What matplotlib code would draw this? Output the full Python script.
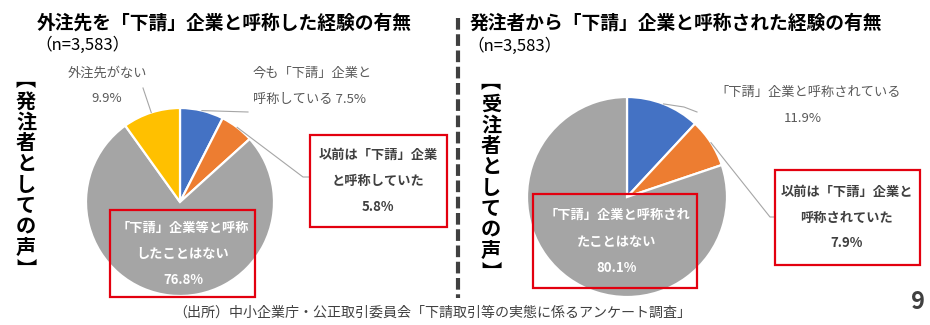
import numpy as np
import matplotlib
matplotlib.use("Agg")
import matplotlib.pyplot as plt
from matplotlib.patches import Rectangle

plt.rcParams['font.family'] = ['Noto Sans CJK JP', 'DejaVu Sans']

# ---- data ----
left_labels = ["今も「下請」企業と呼称している", "以前は「下請」企業と呼称していた",
               "「下請」企業等と呼称したことはない", "外注先がない"]
left_values = [7.5, 5.8, 76.8, 9.9]
right_labels = ["「下請」企業と呼称されている", "以前は「下請」企業と呼称されていた",
                "「下請」企業と呼称されたことはない"]
right_values = [11.9, 7.9, 80.1]
n_total = "3,583"

BLUE, ORANGE, GRAY, YELLOW = "#4472C4", "#ED7D31", "#A5A5A5", "#FFC000"
left_colors = [BLUE, ORANGE, GRAY, YELLOW]
right_colors = [BLUE, ORANGE, GRAY]

W, H = 930, 325
fig = plt.figure(figsize=(W / 100, H / 100), dpi=100)
fig.patch.set_facecolor("white")


def pie_axes(cx, cy, r, values, colors):
    ax = fig.add_axes([(cx - r) / W, (H - cy - r) / H, 2 * r / W, 2 * r / H])
    ax.pie(values, colors=colors, startangle=90, counterclock=False, radius=1,
           wedgeprops=dict(edgecolor="white", linewidth=1.6), frame=True)
    ax.set_xlim(-1, 1)
    ax.set_ylim(-1, 1)
    ax.axis("off")
    return ax


def mid_point(cx, cy, r, values, idx):
    """Pixel position of the outer edge at the middle of wedge idx."""
    total = sum(values)
    start = sum(values[:idx]) / total * 360
    ang = np.deg2rad(90 - (start + values[idx] / total * 180))
    return cx + r * np.cos(ang), cy - r * np.sin(ang)


LCX, LCY, LR = 180, 202, 94
RCX, RCY, RR = 627, 197, 100
pie_axes(LCX, LCY, LR, left_values, left_colors)
pie_axes(RCX, RCY, RR, right_values, right_colors)

# overlay in pixel coordinates (y downward)
ov = fig.add_axes([0, 0, 1, 1], facecolor="none")
ov.set_xlim(0, W)
ov.set_ylim(H, 0)
ov.axis("off")

LABEL = "#595959"
DARK = "#404040"
RED = "#E3000F"
LEAD = "#A6A6A6"


def txt(x, y, s, size=9.5, color=LABEL, weight="normal", ha="center", **kw):
    ov.text(x, y, s, fontsize=size, color=color, fontweight=weight,
            ha=ha, va="center", **kw)


def box(x0, y0, x1, y1):
    ov.add_patch(Rectangle((x0, y0), x1 - x0, y1 - y0, fill=False,
                           edgecolor=RED, linewidth=1.6, zorder=5))


def leader(pts):
    xs, ys = zip(*pts)
    ov.plot(xs, ys, color=LEAD, linewidth=0.8, zorder=4)


def pct(v):
    return f"{v:.1f}%"


# titles
txt(37, 23, "外注先を「下請」企業と呼称した経験の有無", size=13.5,
    color="black", weight="bold", ha="left")
txt(35, 45, f"（n={n_total}）", size=12, color="black", ha="left")
txt(470, 23, "発注者から「下請」企業と呼称された経験の有無", size=13.5,
    color="black", weight="bold", ha="left")
txt(467, 46, f"（n={n_total}）", size=12, color="black", ha="left")

# vertical side headings, one glyph per line
def vertical(x, y_first, word):
    step = 20.9
    txt(x, y_first - 22, "︻", size=14.5, color="black", weight="bold")
    for i, ch in enumerate(word):
        txt(x, y_first + step * i, ch, size=14.5, color="black", weight="bold")
    txt(x, y_first + step * (len(word) - 1) + 22, "︼", size=14.5,
        color="black", weight="bold")

vertical(26, 101, "発注者としての声")
vertical(491, 104, "受注者としての声")

# divider
ov.plot([458, 458], [18, 298], color="#404040", linewidth=3,
        linestyle=(0, (2.8, 1.1)), solid_capstyle="butt")

# ---- left pie labels ----
txt(107, 73, "外注先がない")
txt(107, 99, pct(left_values[3]))
x, y = mid_point(LCX, LCY, LR, left_values, 3)
leader([(x, y), (143, 88)])

txt(253, 73, "今も「下請」企業と", ha="left")
txt(253, 99, "呼称している " + pct(left_values[0]), ha="left")
x, y = mid_point(LCX, LCY, LR, left_values, 0)
leader([(x, y), (248, 112)])

box(310, 135, 447, 227)
txt(378, 155, "以前は「下請」企業", color=DARK, weight="bold")
txt(378, 181, "と呼称していた", color=DARK, weight="bold")
txt(378, 207, pct(left_values[1]), color=DARK, weight="bold")
x, y = mid_point(LCX, LCY, LR, left_values, 1)
leader([(x, y), (303, 177), (310, 177)])

box(110, 210, 255, 297)
txt(183, 228, "「下請」企業等と呼称", color="white", weight="bold")
txt(183, 254, "したことはない", color="white", weight="bold")
txt(183, 280, pct(left_values[2]), color="white", weight="bold")

# ---- right pie labels ----
txt(715, 92, "「下請」企業と呼称されている", ha="left")
txt(803, 119, pct(right_values[0]))
x, y = mid_point(RCX, RCY, RR, right_values, 0)
leader([(x, y), (684, 107), (697, 112)])

box(775, 170, 920, 265)
txt(847, 192, "以前は「下請」企業と", color=DARK, weight="bold")
txt(847, 218, "呼称されていた", color=DARK, weight="bold")
txt(847, 243, pct(right_values[1]), color=DARK, weight="bold")
x, y = mid_point(RCX, RCY, RR, right_values, 1)
leader([(x, y), (770, 217), (775, 217)])

box(533, 194, 697, 288)
txt(617, 215, "「下請」企業と呼称され", color="white", weight="bold")
txt(617, 242, "たことはない", color="white", weight="bold")
txt(617, 268, pct(right_values[2]), color="white", weight="bold")

# footer
txt(432, 313, "（出所）中小企業庁・公正取引委員会「下請取引等の実態に係るアンケート調査」",
    size=10.1, color=DARK)
txt(918, 302, "9", size=17, color=DARK, weight="bold")

fig.savefig("out.png", dpi=100, facecolor="white")
